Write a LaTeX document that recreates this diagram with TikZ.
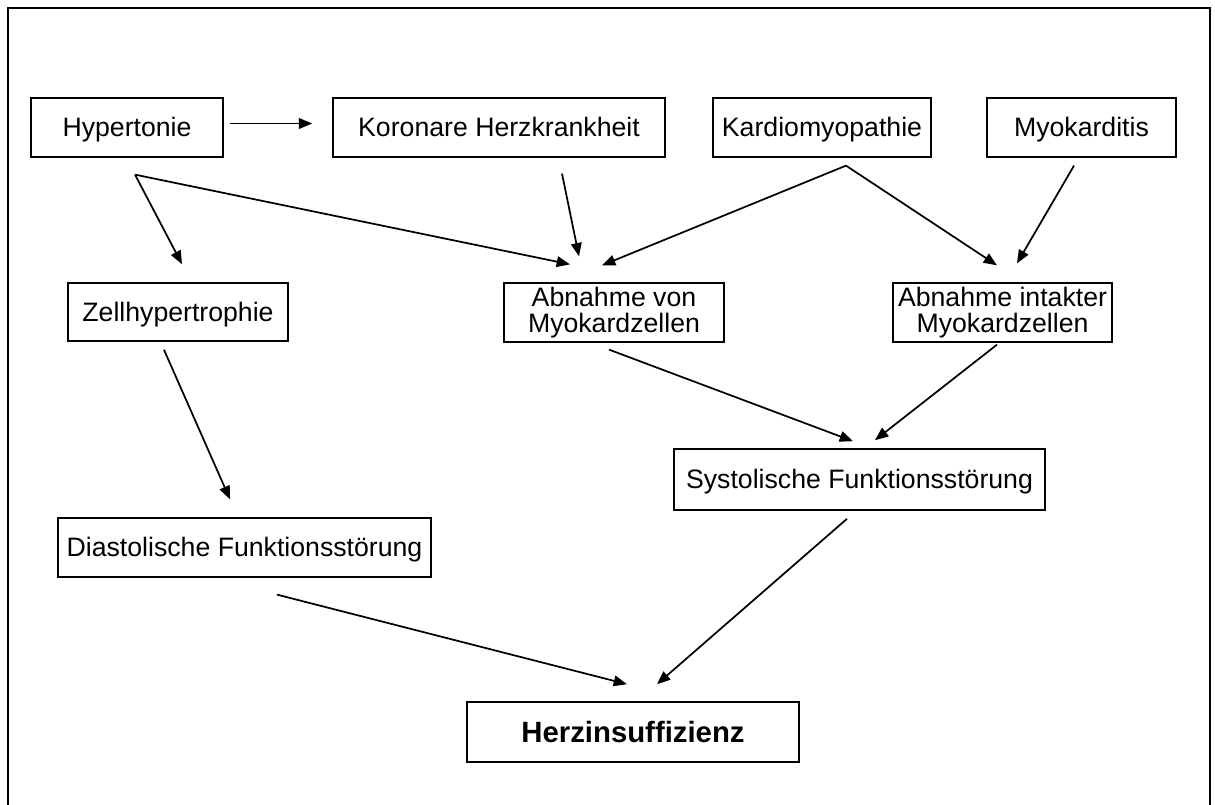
\documentclass[tikz,border=0pt]{standalone}
\usepackage{fontspec}
\setmainfont{Liberation Sans}
\usepackage{tikz}
\usetikzlibrary{arrows.meta}

\tikzset{
    box/.style={draw=black, line width=1.2pt, inner sep=0pt, align=center,
        font=\fontsize{20}{20}\selectfont},
    einzeilig/.style={text height=17pt, text depth=2.8pt},
    pfeil/.style={line width=1.3pt, -{Triangle[length=10pt,width=8pt]}}
}

\begin{document}
\begin{tikzpicture}[x=0.75pt, y=-0.75pt]
    \useasboundingbox (0,0) rectangle (1215,805);
    \fill[white] (0,0) rectangle (1215,805);
    \draw[line width=1.6pt] (8,805) -- (8,8) -- (1210,8) -- (1210,805);
    % row 1
    \node[box, einzeilig, minimum width=144pt, minimum height=44pt] (hyper) at (127,127.5) {Hypertonie};
    \node[box, einzeilig, minimum width=249pt, minimum height=44pt] (khk) at (499,127.5) {Koronare Herzkrankheit};
    \node[box, einzeilig, minimum width=163.5pt, minimum height=44pt] (kardio) at (822,127.5) {Kardiomyopathie};
    \node[box, einzeilig, minimum width=141.75pt, minimum height=44pt] (myo) at (1081.5,127.5) {Myokarditis};
    % row 2
    \node[box, einzeilig, minimum width=165pt, minimum height=43.5pt] (zell) at (178,312) {Zellhypertrophie};
    \node[box, minimum width=165pt, minimum height=44pt] (abnvon) at (614,312.5) {Abnahme von\\Myokardzellen};
    \node[box, minimum width=164pt, minimum height=44pt] (abnint) at (1002.5,312.5) {Abnahme intakter\\Myokardzellen};
    % row 3
    \node[box, einzeilig, minimum width=278pt, minimum height=45.75pt] (syst) at (859.5,479.5) {Systolische Funktionsstörung};
    \node[box, einzeilig, minimum width=280pt, minimum height=44pt] (diast) at (244.5,547.5) {Diastolische Funktionsstörung};
    % row 4
    \node[box, minimum width=249pt, minimum height=45pt, text height=18pt, text depth=3pt,
        font=\fontsize{22}{22}\selectfont\bfseries] (herz) at (633,732) {Herzinsuffizienz};
    % arrows
    \draw[pfeil] ([shift={(6,-4)}]hyper.east) -- ([shift={(-20,-4)}]khk.west);
    \draw[pfeil] ([shift={(8,17)}]hyper.south) -- ([shift={(4,-18)}]zell.north);
    \draw[pfeil] ([shift={(8,17)}]hyper.south) -- ([shift={(-44,-18)}]abnvon.north);
    \draw[pfeil] ([shift={(63,16)}]khk.south) -- ([shift={(-35,-26)}]abnvon.north);
    \draw[pfeil] ([shift={(24,8)}]kardio.south) -- ([shift={(-12,-17)}]abnvon.north);
    \draw[pfeil] ([shift={(24,8)}]kardio.south) -- ([shift={(-5.5,-17)}]abnint.north);
    \draw[pfeil] ([shift={(-7.5,8)}]myo.south) -- ([shift={(14.5,-19)}]abnint.north);
    \draw[pfeil] ([shift={(-14,8)}]zell.south) -- ([shift={(-14.5,-18)}]diast.north);
    \draw[pfeil] ([shift={(-5,7)}]abnvon.south) -- ([shift={(-6.5,-7)}]syst.north);
    \draw[pfeil] ([shift={(-5.5,2)}]abnint.south) -- ([shift={(15.5,-8)}]syst.north);
    \draw[pfeil] ([shift={(-12.5,8)}]syst.south) -- ([shift={(24,-17)}]herz.north);
    \draw[pfeil] ([shift={(32.5,17)}]diast.south) -- ([shift={(-6,-17)}]herz.north);
\end{tikzpicture}
\end{document}
